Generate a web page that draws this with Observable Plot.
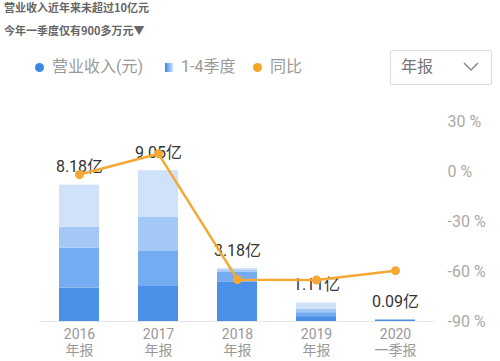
<!DOCTYPE html>
<html><head><meta charset="utf-8">
<script src="https://cdn.jsdelivr.net/npm/d3@7"></script>
<script src="https://cdn.jsdelivr.net/npm/@observablehq/plot@0.6"></script>
<style>
body{margin:0;background:#fff;font-family:Roboto,"Noto Sans CJK SC",sans-serif;}
#wrap{position:relative;width:500px;height:361px;overflow:hidden;}
.abs{position:absolute;white-space:nowrap;}
.t{font-size:11px;font-weight:bold;color:#666;font-family:"Noto Sans CJK SC",sans-serif;line-height:14px;}
.lg{font-size:16px;color:#999;line-height:20px;font-family:Roboto,"Noto Sans CJK SC",sans-serif;}
#chart{position:absolute;left:0;top:95px;}
</style></head>
<body><div id="wrap">
<div class="abs t" style="left:4px;top:0px;">营业收入近年来未超过10亿元</div>
<div class="abs t" style="left:4px;top:23px;">今年一季度仅有900多万元▼</div>
<div class="abs" style="left:35px;top:63px;width:9px;height:9px;border-radius:50%;background:#3b87e8;"></div>
<div class="abs lg" style="left:52px;top:57px;">营业收入(元)</div>
<div class="abs" style="left:165px;top:63px;width:8px;height:9px;background:linear-gradient(to right,#3b87e8,#cfe1fa);"></div>
<div class="abs lg" style="left:181px;top:57px;">1-4季度</div>
<div class="abs" style="left:253px;top:63px;width:9px;height:9px;border-radius:50%;background:#f5a623;"></div>
<div class="abs lg" style="left:270px;top:57px;">同比</div>
<div class="abs" style="left:390px;top:50px;width:100px;height:33px;border:1px solid #ddd;border-radius:2px;"></div>
<div class="abs lg" style="left:401px;top:57px;color:#777;">年报</div>
<svg class="abs" style="left:462px;top:60px;" width="20" height="14"><polyline points="2,3 9,10 16,3" fill="none" stroke="#888" stroke-width="1.5"/></svg>
<div id="chart"></div>
</div>
<script>
const years = ["2016年报","2017年报","2018年报","2019年报","2020一季报"];
const quarters = ["Q1","Q2","Q3","Q4"];
const q1 = [2.00, 2.10, 2.35, 0.29, 0.09];
const q2 = [2.40, 2.10, 0.62, 0.24, 0];
const q3 = [1.25, 2.04, 0.13, 0.22, 0];
const q4 = [2.53, 2.81, 0.08, 0.36, 0];
const totals = [8.18, 9.05, 3.18, 1.11, 0.09];
const yoy = [-1.8, 10.6, -64.9, -65.1, -59.5];
const pctTicks = [-90, -60, -30, 0, 30];
const quarterColors = ["#4a90e9", "#75abf0", "#a4c8f5", "#d0e2fa"];

const qSeries = [q1, q2, q3, q4];
const stackData = [];
years.forEach((y, i) => quarters.forEach((q, j) => stackData.push({year: y, q, value: qSeries[j][i]})));
const totalData = years.map((y, i) => ({year: y, total: totals[i]}));
const yoyData = years.map((y, i) => ({year: y, pct: yoy[i]}));

const yMax = 12;
const toY = p => (p + 90) / 120 * yMax;
const fromY = v => Math.round(v / yMax * 120 - 90);

const chart = Plot.plot({
  width: 500,
  height: 266,
  marginLeft: 39,
  marginRight: 65,
  marginTop: 26,
  marginBottom: 40,
  style: {fontFamily: 'Roboto,"Noto Sans CJK SC",sans-serif', background: "transparent"},
  x: {domain: years, paddingInner: 0.5, paddingOuter: 0.25, label: null},
  y: {domain: [0, yMax], label: null},
  color: {domain: quarters, range: quarterColors},
  marks: [
    Plot.ruleY([0], {stroke: "#e6e6e6", strokeWidth: 1}),
    Plot.barY(stackData, {x: "year", y: "value", fill: "q", order: quarters}),
    Plot.text(totalData, {x: "year", y: "total", text: d => d.total.toFixed(2) + "亿", dy: -18, fontSize: 16, fill: "#333"}),
    Plot.line(yoyData, {x: "year", y: d => toY(d.pct), stroke: "#f5a833", strokeWidth: 2.5}),
    Plot.dot(yoyData, {x: "year", y: d => toY(d.pct), r: 4.5, fill: "#f5a833"}),
    Plot.axisX({tickSize: 0, tickPadding: 6, fontSize: 14, fill: "#999", lineHeight: 1.15, label: null,
      tickFormat: d => d.slice(0, 4) + "\n" + d.slice(4)}),
    Plot.axisY(pctTicks.map(toY), {anchor: "right", tickSize: 0, tickPadding: 12, fontSize: 16, fill: "#aaa", label: null,
      textAnchor: "start", tickFormat: v => fromY(v) + " %"})
  ]
});
document.getElementById("chart").appendChild(chart);
</script>
</body></html>
